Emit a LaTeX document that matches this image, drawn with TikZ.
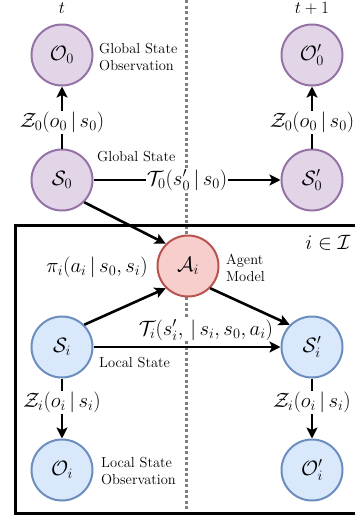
\documentclass[tikz,border=0pt]{standalone}
\usepackage{fontspec}
\usetikzlibrary{arrows.meta}
\definecolor{pfill}{HTML}{E1D5E7}\definecolor{pdraw}{HTML}{9673A6}
\definecolor{rfill}{HTML}{F8CECC}\definecolor{rdraw}{HTML}{B85450}
\definecolor{bfill}{HTML}{DAE8FC}\definecolor{bdraw}{HTML}{6C8EBF}
\definecolor{dotgray}{HTML}{7F7F7F}
\newcommand{\gv}{\,|\,}
\begin{document}
\begin{tikzpicture}[x=1pt,y=-1pt,
  st/.style={circle, minimum size=61pt, inner sep=0pt, line width=2pt, font=\fontsize{21}{24}\selectfont},
  gst/.style={st, draw=pdraw, fill=pfill},
  ast/.style={st, draw=rdraw, fill=rfill},
  lst/.style={st, draw=bdraw, fill=bfill},
  edge/.style={line width=2.6pt, -{Stealth[length=11pt,width=11pt,inset=2.5pt]}},
  elab/.style={fill=white, inner sep=1pt, font=\fontsize{21}{24}\selectfont},
  mlab/.style={inner sep=1pt, font=\fontsize{18}{20}\selectfont},
  note/.style={align=left, font=\fontsize{14.5}{17}\selectfont, inner sep=0pt, anchor=west},
  divider/.style={dotgray, line width=3pt, dash pattern=on 3pt off 2.5pt},
  frame/.style={line width=3pt}
]
\path[use as bounding box] (0,0) rectangle (355,520);
\clip (0,0) rectangle (355,520);

\coordinate (dtop) at (186,0);
\coordinate (dbot) at (186,509);
\draw[divider] (dtop) -- (dbot);

\coordinate (fa) at (15,225);
\coordinate (fb) at (375,513);
\draw[frame] (fa) rectangle (fb);

\node[mlab, anchor=base] (tl) at (62,13) {$t$};
\node[mlab, anchor=base] (tr) at (312,13) {$t+1$};

\node[gst] (O0) at (62,55) {$\mathcal{O}_0$};
\node[gst] (O0p) at (312,55) {$\mathcal{O}_0'$};
\node[gst] (S0) at (62,180) {$\mathcal{S}_0$};
\node[gst] (S0p) at (312,180) {$\mathcal{S}_0'$};
\node[ast] (A) at (188,266) {$\mathcal{A}_i$};
\node[lst] (Si) at (62,347) {$\mathcal{S}_i$};
\node[lst] (Sip) at (312,347) {$\mathcal{S}_i'$};
\node[lst] (Oi) at (62,470) {$\mathcal{O}_i$};
\node[lst] (Oip) at (312,470) {$\mathcal{O}_i'$};

\node[note] (n1) at (99,57) {Global State\\Observation};
\node[note] (n2) at (97,157) {Global State};
\node[note] (n3) at (226,268) {Agent\\Model};
\node[note] (n4) at (99,363) {Local State};
\node[note] (n5) at (101,471) {Local State\\Observation};
\node[mlab, font=\fontsize{20}{22}\selectfont] (iset) at (328,243) {$i\in\mathcal{I}$};

\node[elab] (pil) at (97,267) {$\pi_i(a_i\gv s_0,s_i)$};
\node[elab] (til) at (206,330) {$\mathcal{T}_i(s_i',\gv s_i,s_0,a_i)$};

\draw[edge] (S0) -- node[elab, pos=0.42] {$\mathcal{Z}_0(o_0\gv s_0)$} (O0);
\draw[edge] (S0p) -- node[elab, pos=0.42] {$\mathcal{Z}_0(o_0\gv s_0)$} (O0p);
\draw[edge] (S0) -- node[elab] {$\mathcal{T}_0(s_0'\gv s_0)$} (S0p);
\draw[edge] (S0.south east) -- (A.north west);
\draw[edge] (Si.north east) -- (A.south west);
\draw[edge] (A.south east) -- (Sip.north west);
\draw[edge] (Si) -- (Sip);
\draw[edge] (Si) -- node[elab, pos=0.4] {$\mathcal{Z}_i(o_i\gv s_i)$} (Oi);
\draw[edge] (Sip) -- node[elab, pos=0.4] {$\mathcal{Z}_i(o_i\gv s_i)$} (Oip);
\end{tikzpicture}
\end{document}
